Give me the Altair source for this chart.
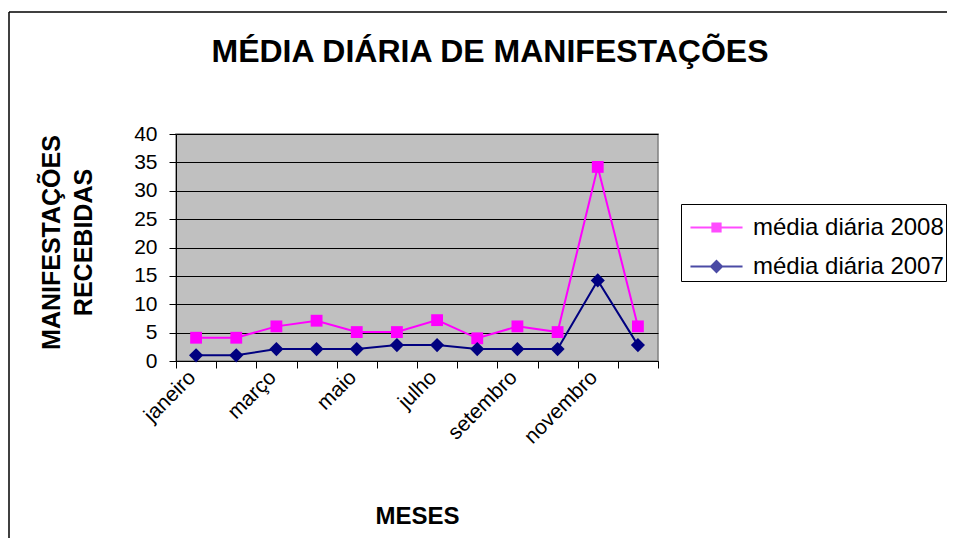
import altair as alt
import pandas as pd

months = ["janeiro", "fevereiro", "março", "abril", "maio", "junho",
          "julho", "agosto", "setembro", "outubro", "novembro", "dezembro"]
media_2008 = [4.1, 4.1, 6.1, 7.1, 5.1, 5.1, 7.2, 4.0, 6.1, 5.1, 34.2, 6.1]
media_2007 = [1.0, 1.0, 2.1, 2.1, 2.1, 2.8, 2.8, 2.1, 2.1, 2.1, 14.2, 2.8]
series = ["média diária 2008", "média diária 2007"]
colors = ["#FF00FF", "#000080"]
markers = ["square", "diamond"]
marker_sizes = [140, 200]
# legend glyphs: a line with a marker drawn by strokes only
legend_symbols = [
    "M-1.27,0H1.27"
    "M-0.25,-0.2H0.25M-0.25,-0.1H0.25M-0.25,0.1H0.25M-0.25,0.2H0.25",
    "M-1.27,0H1.27"
    "M0,-0.27L0.27,0L0,0.27L-0.27,0Z"
    "M-0.08,-0.18H0.08M-0.17,-0.09H0.17M-0.17,0.09H0.17M-0.08,0.18H0.08",
]
y_ticks = [0, 5, 10, 15, 20, 25, 30, 35, 40]

rows = []
for s, vals in zip(series, [media_2008, media_2007]):
    for m, v in zip(months, vals):
        rows.append({"mes": m, "serie": s, "valor": v})
df = pd.DataFrame(rows)

labeled = months[::2]
label_list = "[" + ",".join("'" + m + "'" for m in labeled) + "]"

FONT = "Liberation Sans"

x_enc = alt.X(
    "mes:N", sort=months, bandPosition=0.5,
    scale=alt.Scale(type="band", paddingInner=0, paddingOuter=0),
    axis=alt.Axis(
        title="MESES", titleFontSize=24, titleFontWeight="bold", titleColor="black",
        titleY=162, titleBaseline="alphabetic",
        labelExpr=f"indexof({label_list}, datum.value) >= 0 ? datum.value : ''",
        labelAngle=-45, labelAlign="right", labelBaseline="middle",
        labelFontSize=21, labelColor="black", labelPadding=6, labelOffset=-4,
        tickBand="extent", tickSize=7, tickColor="black",
        domainColor="black", grid=False,
    ),
)
y_enc = alt.Y(
    "valor:Q",
    scale=alt.Scale(domain=[0, 40], nice=False),
    axis=alt.Axis(
        title=["MANIFESTAÇÕES", "RECEBIDAS"], titleFontSize=25, titleFontWeight="bold",
        titleColor="black", titleLineHeight=32, titleX=-125, titleY=108,
        titleAlign="center", titleBaseline="middle", titleAngle=270,
        values=y_ticks, labelFontSize=21, labelColor="black", labelPadding=12,
        tickSize=7, tickColor="black", domainColor="black",
        grid=True, gridColor="black", gridOpacity=1, gridWidth=1,
    ),
)

one = pd.DataFrame({"a": [0]})
frame_top = alt.Chart(one).mark_rule(stroke="black", strokeWidth=1.5).encode(
    x=alt.value(-167), x2=alt.value(800), y=alt.value(-122)
)
frame_left = alt.Chart(one).mark_rule(stroke="black", strokeWidth=1.5).encode(
    x=alt.value(-167), y=alt.value(-122), y2=alt.value(480)
)

base = alt.Chart(df)
color_scale = alt.Scale(domain=series, range=colors)

lines = base.mark_line(strokeWidth=2).encode(
    x=x_enc, y=y_enc,
    color=alt.Color("serie:N", scale=color_scale, legend=None),
    detail="serie:N",
)
point_layers = []
for s, shp, sz in zip(series, markers, marker_sizes):
    point_layers.append(
        base.transform_filter(alt.datum.serie == s)
        .mark_point(filled=True, opacity=1, size=sz, shape=shp)
        .encode(
            x=x_enc, y=y_enc,
            color=alt.Color("serie:N", scale=color_scale, legend=None),
        )
    )

leg = alt.Legend(
    title=None, orient="none", legendX=505, legendY=70,
    labelFontSize=24, labelColor="black", labelOffset=15, labelLimit=400,
    symbolSize=1681, symbolStrokeWidth=2, symbolOffset=12, padding=2,
    strokeColor="black", fillColor="white", rowPadding=5,
)
legend_layer = base.transform_filter("false").mark_point(
    filled=False, strokeWidth=2
).encode(
    x=x_enc, y=y_enc,
    stroke=alt.Stroke("serie:N", scale=alt.Scale(domain=series, range=colors), legend=leg),
    shape=alt.Shape("serie:N", scale=alt.Scale(domain=series, range=legend_symbols), legend=leg),
)

chart = alt.layer(frame_top, frame_left, lines, *point_layers, legend_layer).resolve_scale(
    stroke="independent", shape="independent"
).resolve_legend(
    stroke="independent", shape="independent"
).properties(
    width=482, height=227,
    autosize=alt.AutoSizeParams(type="none"),
    padding={"left": 168, "top": 126, "right": 289, "bottom": 177},
    title=alt.Title(
        "MÉDIA DIÁRIA DE MANIFESTAÇÕES", fontSize=32, fontWeight="bold",
        color="black", anchor="middle", frame="group", dx=73, offset=0,
        baseline="alphabetic", dy=83,
    ),
).configure(
    font=FONT, background="white",
).configure_view(
    fill="#C0C0C0", stroke="#808080", strokeWidth=1.5,
)

chart.save("out.html", embed_options={"renderer": "svg", "actions": False})
